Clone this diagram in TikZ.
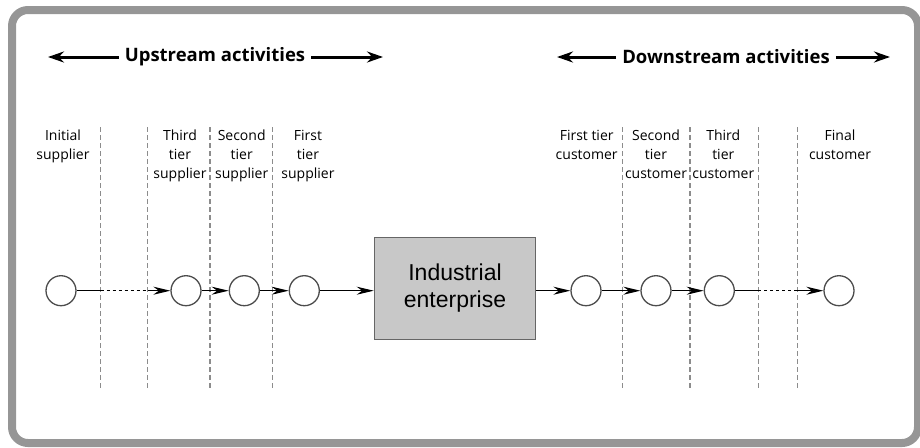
\documentclass[tikz,border=0pt]{standalone}
\usepackage{fontspec}
\newfontfamily\labelfont{Open Sans}
\newfontfamily\boxfont{Liberation Sans}
\usetikzlibrary{arrows.meta}
\definecolor{framegray}{RGB}{150,150,150}
\definecolor{boxgray}{RGB}{200,200,200}
\definecolor{divgray}{RGB}{140,140,140}

\begin{document}
\begin{tikzpicture}[x=1pt,y=-1pt,
	tier/.style={font=\labelfont\fontsize{14}{19}\selectfont,align=center,anchor=north,inner sep=0pt},
	heading/.style={font=\labelfont\bfseries\fontsize{18.5}{20}\selectfont,inner sep=6pt},
	firm/.style={circle,draw=black!70,fill=white,line width=1.3pt,minimum size=30pt,inner sep=0pt},
	flow/.style={line width=1.1pt,-{Stealth[length=17pt,width=8pt]}},
	bigarrow/.style={line width=3pt,-{Stealth[length=16pt,width=11pt]}},
	divider/.style={divgray,line width=1.2pt,dash pattern=on 5pt off 3pt}]
	\useasboundingbox (0,0) rectangle (920,447);

	%frame
	\draw[framegray,line width=8pt,rounded corners=16pt] (12,10) rectangle (918,443);

	%headings
	\node[heading] (up) at (215,57) {Upstream activities};
	\node[heading] (down) at (726,57) {Downstream activities};
	\coordinate (upL) at (48,57);
	\coordinate (upR) at (383,57);
	\coordinate (downL) at (557,57);
	\coordinate (downR) at (890,57);
	\draw[bigarrow] (up.west) -- (upL);
	\draw[bigarrow] (up.east) -- (upR);
	\draw[bigarrow] (down.west) -- (downL);
	\draw[bigarrow] (down.east) -- (downR);

	%dividers
	\draw[divider] (100.7,127) -- (100.7,388);
	\draw[divider] (147.7,127) -- (147.7,388);
	\draw[divider] (210,127) -- (210,388);
	\draw[divider] (272.7,127) -- (272.7,388);
	\draw[divider] (622.7,127) -- (622.7,388);
	\draw[divider] (690,127) -- (690,388);
	\draw[divider] (758.3,127) -- (758.3,388);
	\draw[divider] (797.3,127) -- (797.3,388);

	%tier labels
	\node[tier] (lab0) at (63,130) {Initial\\supplier};
	\node[tier] (lab3) at (180,130) {Third\\tier\\supplier};
	\node[tier] (lab2) at (241.7,130) {Second\\tier\\supplier};
	\node[tier] (lab1) at (308,130) {First\\tier\\supplier};
	\node[tier] (labc1) at (586.7,130) {First tier\\customer};
	\node[tier] (labc2) at (656,130) {Second\\tier\\customer};
	\node[tier] (labc3) at (723.3,130) {Third\\tier\\customer};
	\node[tier] (labcN) at (840,130) {Final\\customer};

	%enterprise
	\node[draw=black!60,fill=boxgray,line width=1.6pt,minimum width=161pt,minimum height=102pt,
		font=\boxfont\fontsize{23}{27}\selectfont,align=center] (ent) at (455,288.3) {Industrial\\enterprise};

	%suppliers and customers
	\node[firm] (sup0) at (61,290.7) {};
	\node[firm] (sup3) at (186,290.7) {};
	\node[firm] (sup2) at (244.3,290.7) {};
	\node[firm] (sup1) at (304.3,290.7) {};
	\node[firm] (cus1) at (586,290.7) {};
	\node[firm] (cus2) at (656,290.7) {};
	\node[firm] (cus3) at (719.3,290.7) {};
	\node[firm] (cusN) at (839,290.7) {};

	%gaps in the chain
	\coordinate (gapA) at (100.7,290.7);
	\coordinate (gapB) at (147.7,290.7);
	\coordinate (gapC) at (758.3,290.7);
	\coordinate (gapD) at (797.3,290.7);

	%flows
	\draw[line width=1.1pt] (sup0) -- (gapA);
	\draw[line width=1.1pt,dashed] (gapA) -- (gapB);
	\draw[flow] (gapB) -- (sup3);
	\draw[flow] (sup3) -- (sup2);
	\draw[flow] (sup2) -- (sup1);
	\draw[flow] (sup1) -- (sup1 -| ent.west);
	\draw[flow] (cus1 -| ent.east) -- (cus1);
	\draw[flow] (cus1) -- (cus2);
	\draw[flow] (cus2) -- (cus3);
	\draw[line width=1.1pt] (cus3) -- (gapC);
	\draw[line width=1.1pt,dashed] (gapC) -- (gapD);
	\draw[flow] (gapD) -- (cusN);
\end{tikzpicture}
\end{document}
